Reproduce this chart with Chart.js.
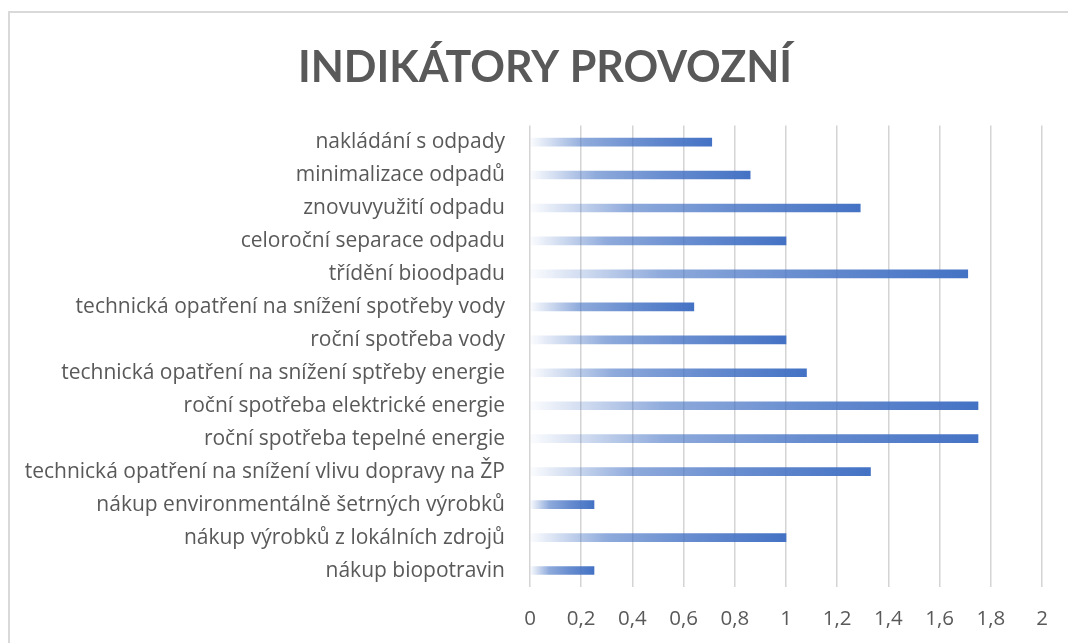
<!DOCTYPE html>
<html lang="cs">
<head>
<meta charset="utf-8">
<title>Indikátory provozní</title>
<script src="https://cdn.jsdelivr.net/npm/chart.js@4.4.1/dist/chart.umd.min.js"></script>
<style>
  html, body { margin: 0; padding: 0; background: #fff; overflow: hidden; }
  #frame {
    position: absolute; left: 8px; top: 11px;
    width: 1100px; height: 700px;
    border-top: 2px solid #d9d9d9; border-left: 2px solid #d9d9d9;
  }
  #chart { position: absolute; left: 0; top: 0; }
</style>
</head>
<body>
<div id="frame"></div>
<canvas id="chart" width="1068" height="643"></canvas>
<script>
// Categories, top to bottom as in the picture
const categories = [
  "nakládání s odpady",
  "minimalizace odpadů",
  "znovuvyužití odpadu",
  "celoroční separace odpadu",
  "třídění bioodpadu",
  "technická opatření na snížení spotřeby vody",
  "roční spotřeba vody",
  "technická opatření na snížení sptřeby energie",
  "roční spotřeba elektrické energie",
  "roční spotřeba tepelné energie",
  "technická opatření na snížení vlivu dopravy na ŽP",
  "nákup environmentálně šetrných výrobků",
  "nákup výrobků z lokálních zdrojů",
  "nákup biopotravin"
];

// Values
const values = [0.71, 0.86, 1.29, 1, 1.71, 0.64, 1, 1.08, 1.75, 1.75, 1.33, 0.25, 1, 0.25];

// x axis tick labels (Czech decimal comma)
const xTickLabels = ["0", "0,2", "0,4", "0,6", "0,8", "1", "1,2", "1,4", "1,6", "1,8", "2"];

const BAR_BLUE = "#4472C4";
const TEXT_GREY = "#595959";
const GRID_GREY = "#d4d4d4";

// Each bar fades from almost white at 0 to full blue at its own end
function barGradient(ctx) {
  const chart = ctx.chart;
  if (!chart.chartArea || ctx.type !== "data") return BAR_BLUE;
  const x0 = chart.scales.x.getPixelForValue(0);
  const x1 = chart.scales.x.getPixelForValue(ctx.raw);
  if (x1 - x0 < 1) return BAR_BLUE;
  const g = chart.ctx.createLinearGradient(x0, 0, x1, 0);
  g.addColorStop(0, "rgba(68,114,196,0.02)");
  g.addColorStop(0.12, "rgba(68,114,196,0.25)");
  g.addColorStop(0.3, "rgba(68,114,196,0.6)");
  g.addColorStop(0.6, "rgba(68,114,196,0.8)");
  g.addColorStop(1, "rgba(68,114,196,1)");
  return g;
}

new Chart(document.getElementById("chart"), {
  type: "bar",
  data: {
    labels: categories,
    datasets: [{
      data: values,
      backgroundColor: barGradient,
      borderWidth: 0,
      barThickness: 8
    }]
  },
  options: {
    indexAxis: "y",
    responsive: false,
    animation: false,
    // uneven padding keeps the title centred like the original (frame is wider than the shot)
    layout: { padding: { left: 22, right: 0, top: 0, bottom: 0 } },
    plugins: {
      legend: { display: false },
      tooltip: { enabled: false },
      title: {
        display: true,
        text: "INDIKÁTORY PROVOZNÍ",
        color: TEXT_GREY,
        font: { family: "Lato", size: 43, weight: "bold", lineHeight: 1.2 },
        padding: { top: 42, bottom: 32 }
      }
    },
    scales: {
      x: {
        min: 0, max: 2,
        ticks: {
          stepSize: 0.2,
          color: TEXT_GREY,
          font: { family: "Open Sans", size: 20.5 },
          padding: 20,
          maxRotation: 0,
          callback: (v, i) => xTickLabels[i]
        },
        grid: { color: GRID_GREY, lineWidth: 1.5, drawTicks: false },
        border: { display: false },
        afterFit: (scale) => { scale.height = 56; scale.paddingRight = 26; }
      },
      y: {
        ticks: {
          color: TEXT_GREY,
          font: { family: "Open Sans", size: 21 },
          padding: 17
        },
        grid: { display: false },
        border: { display: false },
        afterFit: (scale) => { scale.width = 508; }
      }
    }
  }
});
</script>
</body>
</html>
